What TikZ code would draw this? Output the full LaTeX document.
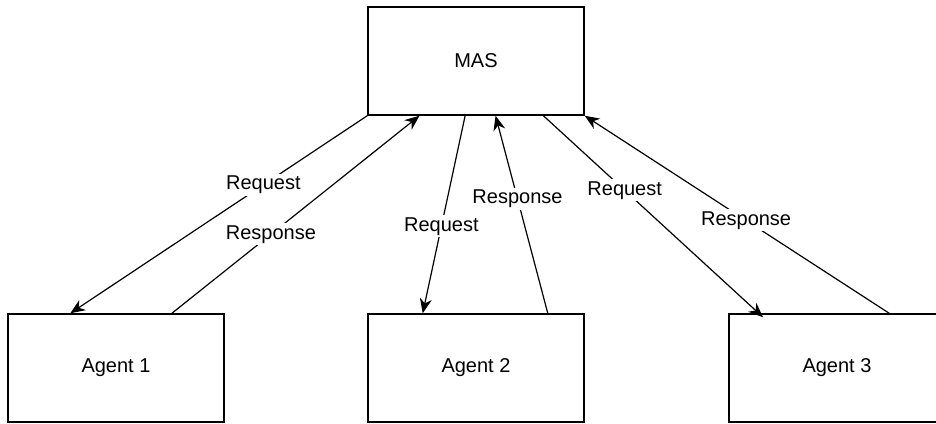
\documentclass[tikz,border=0pt]{standalone}
\usepackage{fontspec}
\setmainfont{Liberation Sans}
\usetikzlibrary{arrows.meta,calc}

\begin{document}
\begin{tikzpicture}[x=0.75pt, y=-0.75pt,
    every node/.style={font=\fontsize{15}{17}\selectfont},
    box/.style={draw, line width=1.1pt, minimum width=162pt, minimum height=81pt, inner sep=0pt},
    msg/.style={line width=0.9pt, -{Stealth[length=11pt, width=9pt, inset=3.5pt]}},
    lbl/.style={fill=white, inner sep=1.5pt}]
    \useasboundingbox (0,0) rectangle (936,424);

    % Define node coordinates explicitly
    \node[box] (MAS)    at (476,61)  {MAS};
    \node[box] (Agent1) at (116,368) {Agent 1};
    \node[box] (Agent2) at (476,368) {Agent 2};
    \node[box] (Agent3) at (837,368) {Agent 3};

    % Arrows between MAS and Agent 1
    \draw[msg] (MAS.south west) -- ($(Agent1.north west)!0.29!(Agent1.north east)$)
        node[lbl, pos=0.35] {Request};
    \draw[msg] ($(Agent1.north west)!0.757!(Agent1.north east)$) -- ($(MAS.south west)!0.24!(MAS.south east)$)
        node[lbl, pos=0.4] {Response};

    % Arrows between MAS and Agent 2
    \draw[msg] ($(MAS.south west)!0.45!(MAS.south east)$) -- ($(Agent2.north west)!0.255!(Agent2.north east)$)
        node[lbl, pos=0.56] {Request};
    \draw[msg] ($(Agent2.north west)!0.83!(Agent2.north east)$) -- ($(MAS.south west)!0.59!(MAS.south east)$)
        node[lbl, pos=0.58] {Response};

    % Arrows between MAS and Agent 3
    \draw[msg] ($(MAS.south west)!0.81!(MAS.south east)$) -- ($(Agent3.north west)!0.16!(Agent3.north east)+(0,4)$)
        node[lbl, pos=0.37] {Request};
    \draw[msg] ($(Agent3.north west)!0.74!(Agent3.north east)$) -- (MAS.south east)
        node[lbl, pos=0.47] {Response};
\end{tikzpicture}
\end{document}
